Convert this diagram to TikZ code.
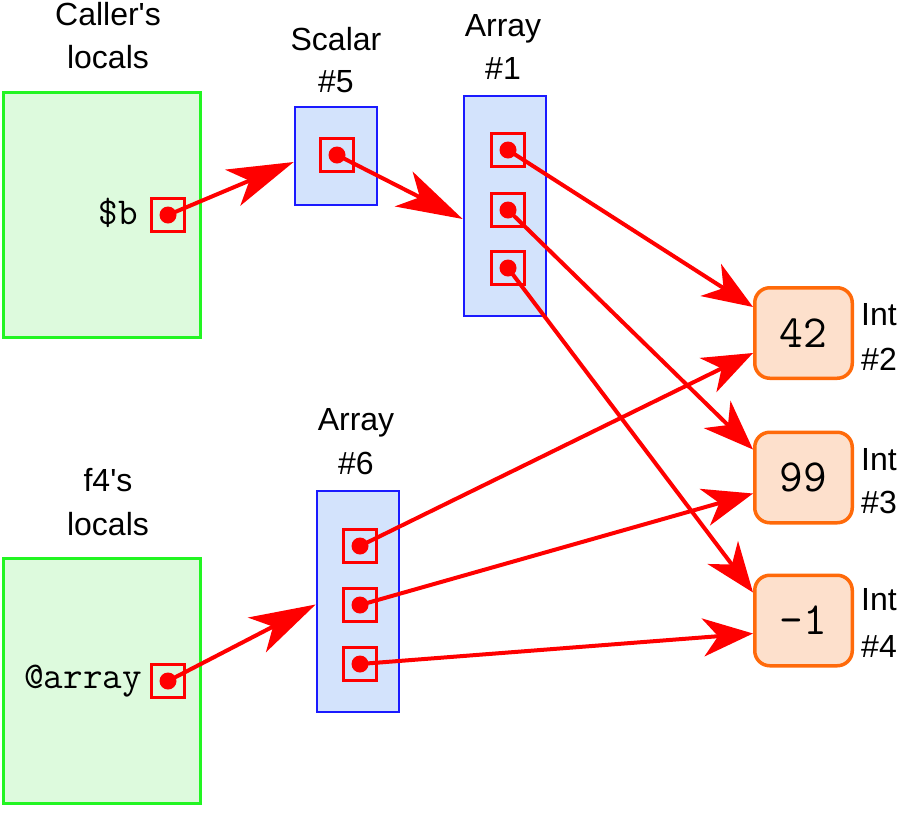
\documentclass[tikz,border=0pt]{standalone}
\usepackage{fontspec}
\setmainfont{Liberation Sans}[Ligatures=TeXOff]
\usetikzlibrary{arrows.meta,calc}
\definecolor{framegreen}{HTML}{22F522}
\definecolor{fillgreen}{HTML}{DDFADD}
\definecolor{objblue}{HTML}{1A1AFF}
\definecolor{fillblue}{HTML}{D3E3FC}
\definecolor{intorange}{HTML}{FF6A0A}
\definecolor{intfill}{HTML}{FDE0CC}
\definecolor{ptrred}{HTML}{FF0000}
\begin{document}
\begin{tikzpicture}[x=1pt,y=-1pt,
  frame/.style={draw=framegreen, fill=fillgreen, line width=3pt, inner sep=0pt, minimum width=197pt, minimum height=245pt},
  objbox/.style={draw=objblue, fill=fillblue, line width=2.7pt, inner sep=0pt, minimum width=82pt},
  slot/.style={draw=ptrred, line width=3pt, inner sep=0pt, minimum size=33pt},
  dotmark/.style={circle, fill=ptrred, inner sep=0pt, minimum size=17pt},
  intbox/.style={draw=intorange, fill=intfill, line width=3.5pt, rounded corners=15pt, inner sep=0pt, minimum width=97.5pt, minimum height=90.5pt, font=\ttfamily\fontsize{46}{46}\selectfont},
  lbl/.style={anchor=base, inner sep=0pt, font=\fontsize{32}{32}\selectfont},
  lblw/.style={anchor=base west, inner sep=0pt, font=\fontsize{32}{32}\selectfont},
  mono/.style={anchor=base east, inner sep=0pt, font=\ttfamily\fontsize{38}{38}\selectfont},
  ptr/.style={draw=ptrred, line width=4pt, -{Stealth[length=50pt,width=38pt,inset=15pt,fill=ptrred]}},
  bigptr/.style={draw=ptrred, line width=4pt, -{Stealth[length=66pt,width=39pt,inset=18pt,fill=ptrred]}}
]
\useasboundingbox[fill=white] (0,0) rectangle (900,820);

% frames
\node[frame] (caller) at (102,215) {};
\node[frame] (f4) at (102,681) {};
\node[lbl] (callerA) at (108,25) {Caller's};
\node[lbl] (callerB) at (108,68) {locals};
\node[lbl] (f4A) at (108,491) {f4's};
\node[lbl] (f4B) at (108,535) {locals};

% objects
\node[objbox, minimum height=98pt] (scalar) at (336,156) {};
\node[lbl] (scalarA) at (336,50) {Scalar};
\node[lbl] (scalarB) at (336,92) {\#5};
\node[objbox, minimum height=220pt] (arr1) at (505,206) {};
\node[lbl] (arr1A) at (503,36) {Array};
\node[lbl] (arr1B) at (503,79) {\#1};
\node[objbox, minimum height=221pt] (arr6) at (358,601.5) {};
\node[lbl] (arr6A) at (356,430) {Array};
\node[lbl] (arr6B) at (356,474) {\#6};

% ints
\node[intbox] (int2) at (803.5,333) {42};
\node[intbox] (int3) at (803.5,477.5) {99};
\node[intbox] (int4) at (803.5,620.5) {-1};
\node[lblw] (int2A) at (861,325) {Int};
\node[lblw] (int2B) at (861,370) {\#2};
\node[lblw] (int3A) at (861,470) {Int};
\node[lblw] (int3B) at (861,513) {\#3};
\node[lblw] (int4A) at (861,610) {Int};
\node[lblw] (int4B) at (861,657) {\#4};

% variable names
\node[mono] (bname) at (138,224) {\$b};
\node[mono] (aname) at (142,688) {@array};

% slots
\node[slot] (sb) at (168,215) {};
\node[slot] (sa) at (168,681) {};
\node[slot] (ss) at (337,155) {};
\node[slot] (s11) at (508,150) {};
\node[slot] (s12) at (508,210) {};
\node[slot] (s13) at (508,268) {};
\node[slot] (s61) at (360,546) {};
\node[slot] (s62) at (360,605) {};
\node[slot] (s63) at (360,664) {};

% pointers
\draw[bigptr] (sb.center) -- ($(scalar.west)+(0,6)$);
\draw[bigptr] (ss.center) -- ($(arr1.west)+(0,13)$);
\draw[bigptr] (sa.center) -- ($(arr6.west)+(0,3)$);
\draw[ptr] (s11.center) -- ($(int2.west)+(0,-26)$);
\draw[ptr] (s12.center) -- ($(int3.west)+(0,-28)$);
\draw[ptr] (s13.center) -- ($(int4.west)+(0,-28)$);
\draw[ptr] (s61.center) -- ($(int2.west)+(0,20)$);
\draw[ptr] (s62.center) -- ($(int3.west)+(0,16)$);
\draw[ptr] (s63.center) -- ($(int4.west)+(0,13)$);

% dots
\foreach \s in {sb,sa,ss,s11,s12,s13,s61,s62,s63}
  \node[dotmark] (d\s) at (\s.center) {};
\end{tikzpicture}
\end{document}
